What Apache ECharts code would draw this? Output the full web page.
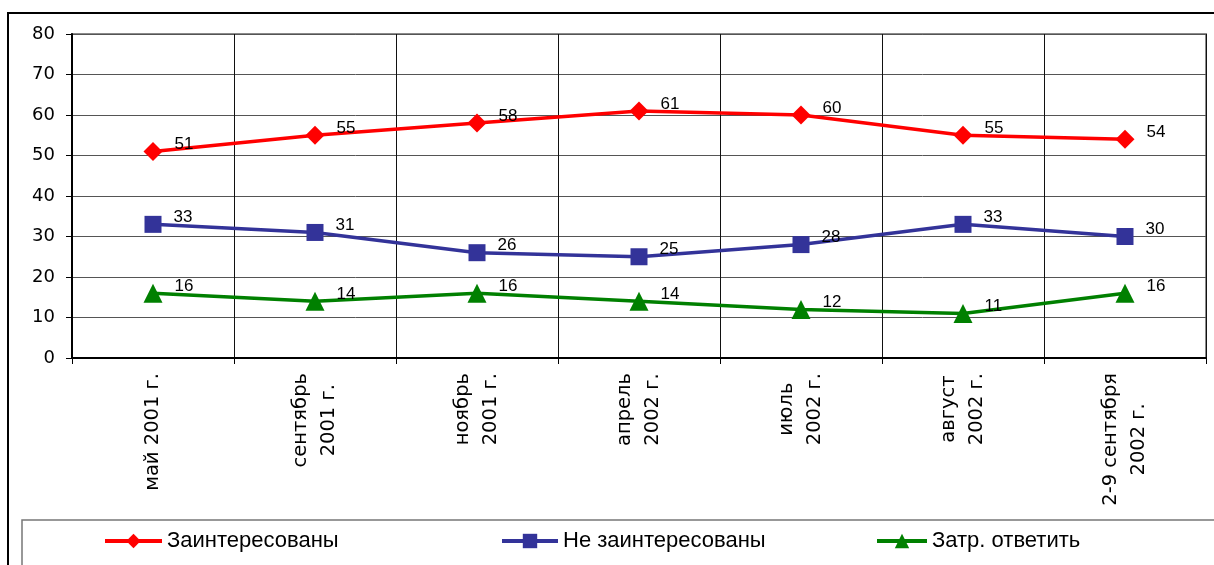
<!DOCTYPE html>
<html>
<head>
<meta charset="utf-8">
<script src="https://cdn.jsdelivr.net/npm/echarts@6/dist/echarts.min.js"></script>
<style>
  html, body { margin: 0; padding: 0; background: #fff; }
  #chart { width: 1214px; height: 565px; }
</style>
</head>
<body>
<div id="chart"></div>
<script>
// Survey waves (x axis)
const categories = [
  'май 2001 г.',
  'сентябрь\n2001 г.',
  'ноябрь\n2001 г.',
  'апрель\n2002 г.',
  'июль\n2002 г.',
  'август\n2002 г.',
  '2-9 сентября\n2002 г.'
];

// Shares of respondents, %
const interested    = [51, 55, 58, 61, 60, 55, 54];
const notInterested = [33, 31, 26, 25, 28, 33, 30];
const hardToSay     = [16, 14, 16, 14, 12, 11, 16];

const seriesNames = ['Заинтересованы', 'Не заинтересованы', 'Затр. ответить'];

const yMin = 0, yMax = 80, yStep = 10;

const FONT = '"Liberation Sans", Arial, sans-serif';
const WIDE = '"DejaVu Sans", sans-serif';

const chart = echarts.init(document.getElementById('chart'), null, { renderer: 'canvas' });

function lineSeries(name, data, color, symbol, size) {
  return {
    name: name,
    type: 'line',
    data: data,
    symbol: symbol,
    symbolSize: size,
    itemStyle: { color: color },
    lineStyle: { color: color, width: 3.5 },
    emphasis: { disabled: true },
    animation: false,
    label: {
      show: true,
      position: 'right',
      distance: 5,
      offset: [7, -7],
      fontFamily: FONT,
      fontSize: 17,
      color: '#000'
    }
  };
}

function legendBlock(name, left, width) {
  return {
    data: [name],
    left: left,
    top: 530,
    padding: 0,
    itemWidth: width,
    itemHeight: 18,
    selectedMode: false,
    lineStyle: { width: 4 },
    textStyle: { fontFamily: FONT, fontSize: 22, color: '#000' }
  };
}

const option = {
  backgroundColor: '#fff',
  animation: false,
  grid: {
    left: 72, right: 8, top: 34, bottom: 207,
    show: true, borderColor: '#8a8a8a', borderWidth: 2,
    containLabel: false
  },
  xAxis: {
    type: 'category',
    data: categories,
    boundaryGap: true,
    axisLine: { lineStyle: { color: '#000', width: 2 } },
    axisTick: { show: true, length: 6, lineStyle: { color: '#000', width: 1 } },
    splitLine: { show: true, lineStyle: { color: '#111', width: 1 } },
    axisLabel: {
      rotate: 90,
      margin: 15,
      interval: 0,
      formatter: function (v) {
        return v.split('\n').map(function (s) { return '{c|' + s + '}'; }).join('\n');
      },
      rich: {
        c: { align: 'center', fontFamily: WIDE, fontSize: 19.5, lineHeight: 28, color: '#000' }
      }
    }
  },
  yAxis: {
    type: 'value',
    min: yMin, max: yMax, interval: yStep,
    axisLine: { show: true, lineStyle: { color: '#000', width: 2 } },
    axisTick: { show: true, length: 6, lineStyle: { color: '#000', width: 1 } },
    splitLine: { show: true, lineStyle: { color: '#555', width: 1 } },
    axisLabel: { margin: 17, fontFamily: WIDE, fontSize: 18, color: '#000' }
  },
  legend: [
    legendBlock(seriesNames[0], 103, 57),
    legendBlock(seriesNames[1], 500, 56),
    legendBlock(seriesNames[2], 875, 50)
  ],
  graphic: [
    {
      type: 'rect', silent: true, z: -1,
      shape: { x: 8, y: 13, width: 1400, height: 800 },
      style: { fill: null, stroke: '#000', lineWidth: 2 }
    },
    {
      type: 'rect', silent: true, z: -1,
      shape: { x: 22, y: 520, width: 1400, height: 200 },
      style: { fill: null, stroke: '#777', lineWidth: 1.5 }
    }
  ],
  series: [
    lineSeries(seriesNames[0], interested, '#ff0000', 'diamond', 19),
    lineSeries(seriesNames[1], notInterested, '#333399', 'rect', 17),
    lineSeries(seriesNames[2], hardToSay, '#008000', 'triangle', 19)
  ]
};

chart.setOption(option);
</script>
</body>
</html>
